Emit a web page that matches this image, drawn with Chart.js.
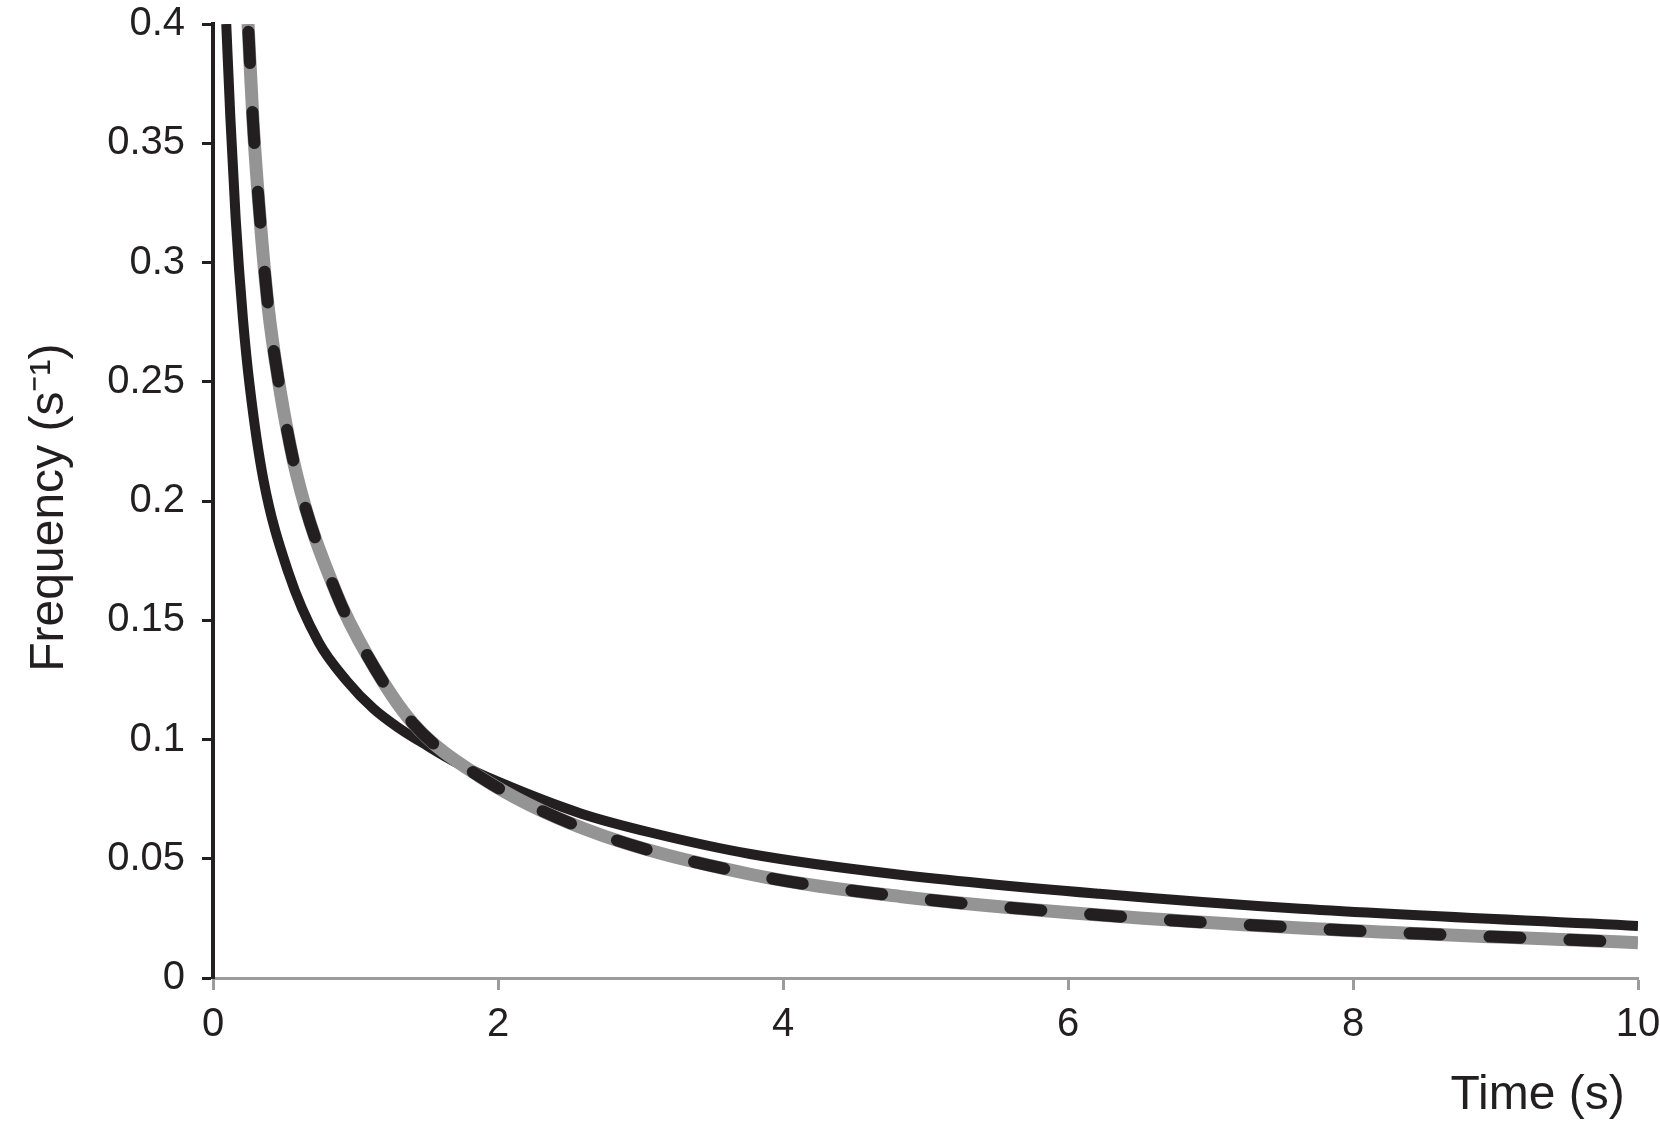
<!DOCTYPE html>
<html>
<head>
<meta charset="utf-8">
<script src="https://cdn.jsdelivr.net/npm/chart.js@4"></script>
<style>
  html, body { margin: 0; padding: 0; background: #fff; }
  #wrap { width: 1660px; height: 1136px; }
</style>
</head>
<body>
<div id="wrap"><canvas id="grafico"></canvas></div>
<script>
// Valores (tempo em s, frequência em s^-1)
const tempoSolida = [0.093, 0.122, 0.159, 0.21, 0.26, 0.353, 0.529, 0.739, 0.94, 1.125, 1.3, 1.5, 1.686, 2, 2.58, 3.07, 3.77, 4.82, 6.22, 7.63, 10];
const freqSolida = [0.4, 0.3605, 0.3185, 0.2765, 0.247, 0.2092, 0.17, 0.141, 0.1245, 0.113, 0.105, 0.0975, 0.091, 0.0823, 0.069, 0.061, 0.052, 0.0433, 0.0353, 0.029, 0.0218];

const tempoTracejada = [0.246, 0.281, 0.328, 0.386, 0.458, 0.587, 0.868, 1.09, 1.4, 1.87, 2.6, 3.77, 4.82, 6.22, 7.63, 10];
const freqTracejada = [0.4, 0.359, 0.32, 0.282, 0.251, 0.211, 0.161, 0.1345, 0.107, 0.0845, 0.0627, 0.0435, 0.0342, 0.0264, 0.021, 0.0148];

const ticksX = [0, 2, 4, 6, 8, 10];
const ticksY = [0, 0.05, 0.1, 0.15, 0.2, 0.25, 0.3, 0.35, 0.4];

const preto = "#231f20";
const cinza = "#949494";
const fonte = "'Liberation Sans', Arial, sans-serif";

function pontos(xs, ys) {
  return xs.map((x, i) => ({ x: x, y: ys[i] }));
}

const ctx = document.getElementById("grafico").getContext("2d");
const grafico = new Chart(ctx, {
  type: "line",
  data: {
    datasets: [
      {
        // tracejado preto por cima da linha cinza
        label: "tracejada",
        data: pontos(tempoTracejada, freqTracejada),
        borderColor: preto,
        borderWidth: 12,
        borderDash: [31, 49],
        borderDashOffset: -8,
        borderCapStyle: "round",
        pointRadius: 0,
        fill: false,
        cubicInterpolationMode: "monotone",
      },
      {
        label: "cinza",
        data: pontos(tempoTracejada, freqTracejada),
        borderColor: cinza,
        borderWidth: 13,
        pointRadius: 0,
        fill: false,
        cubicInterpolationMode: "monotone",
      },
      {
        label: "solida",
        data: pontos(tempoSolida, freqSolida),
        borderColor: preto,
        borderWidth: 10,
        pointRadius: 0,
        fill: false,
        cubicInterpolationMode: "monotone",
      },
    ],
  },
  options: {
    responsive: true,
    maintainAspectRatio: false,
    animation: false,
    layout: { padding: { top: 24, right: 22, bottom: 0, left: 0 } },
    plugins: { legend: { display: false }, tooltip: { enabled: false } },
    scales: {
      x: {
        type: "linear",
        min: 0,
        max: 10,
        // área do gráfico fixa: x de 213 a 1638, y de 24 a 978
        afterFit: (scale) => {
          scale.height = 158;
          scale.paddingLeft = 0;
          scale.paddingRight = 0;
        },
        afterBuildTicks: (scale) => { scale.ticks = ticksX.map((v) => ({ value: v })); },
        grid: { drawOnChartArea: false, drawTicks: true, tickLength: 12, tickWidth: 3, tickColor: "#9c9c9c" },
        border: { display: true, color: "#9c9c9c", width: 3 },
        ticks: {
          padding: 11,
          color: preto,
          font: { family: fonte, size: 40 },
          maxRotation: 0,
          callback: (v) => String(v),
        },
        title: {
          display: true,
          text: "Time (s) ",
          align: "end",
          color: preto,
          font: { family: fonte, size: 48 },
          padding: { top: 0, bottom: 11 },
        },
      },
      y: {
        type: "linear",
        min: 0,
        max: 0.4,
        afterFit: (scale) => {
          scale.width = 213;
          scale.paddingTop = 0;
          scale.paddingBottom = 0;
        },
        afterBuildTicks: (scale) => { scale.ticks = ticksY.map((v) => ({ value: v })); },
        grid: { drawOnChartArea: false, drawTicks: true, tickLength: 11, tickWidth: 3, tickColor: preto },
        border: { display: true, color: preto, width: 4 },
        ticks: {
          padding: 17,
          color: preto,
          font: { family: fonte, size: 40 },
          callback: (v) => String(+v.toFixed(2)),
        },
        title: {
          display: true,
          text: "Frequency (s\u207B\u00B9) ",
          color: preto,
          font: { family: fonte, size: 48 },
          padding: { top: 21, bottom: 0 },
        },
      },
    },
  },
});
</script>
</body>
</html>
